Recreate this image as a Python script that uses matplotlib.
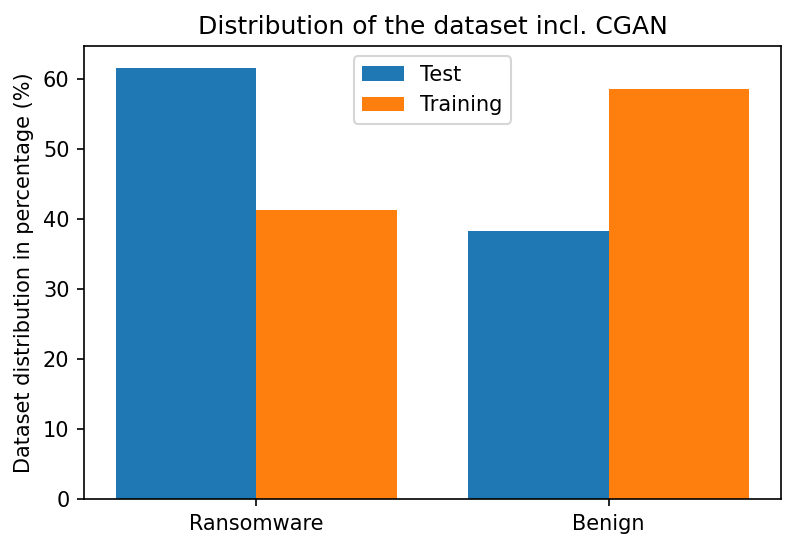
import numpy as np
import matplotlib
matplotlib.use("Agg")
import matplotlib.pyplot as plt

categories = ["Ransomware", "Benign"]
test_values = [61.7, 38.3]
training_values = [41.3, 58.7]

x = np.arange(len(categories))
width = 0.4

fig, ax = plt.subplots(figsize=(796 / 150, 549 / 150), dpi=150)
ax.bar(x - width / 2, test_values, width, label="Test")
ax.bar(x + width / 2, training_values, width, label="Training")
ax.set_xticks(x)
ax.set_xticklabels(categories)
ax.set_ylabel("Dataset distribution in percentage (%)")
ax.set_title("Distribution of the dataset incl. CGAN")
ax.legend(loc="upper center")
fig.subplots_adjust(left=84 / 796, right=781 / 796, top=1 - 46 / 549, bottom=1 - 499 / 549)
fig.savefig("out.png", dpi=150)
